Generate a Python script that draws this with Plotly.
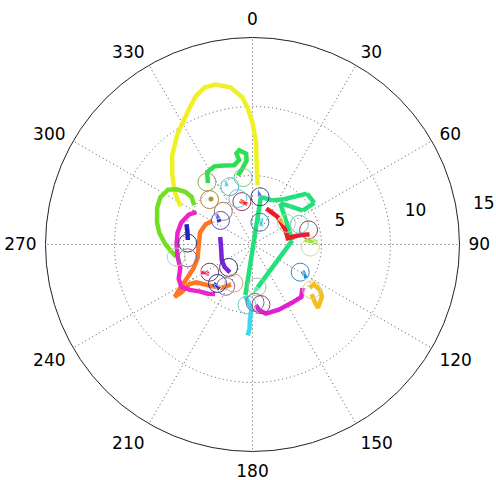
import plotly.graph_objects as go

# ---- angular / radial tick labels ----
ANG_TICKS = list(range(0, 360, 30))
ANG_TEXT = [str(a) for a in ANG_TICKS]
RAD_TICKS = [5, 10, 15]
RAD_TEXT = ["5", "10", "15"]
RAD_LABEL_R = [6.55, 12.05]
RAD_LABEL_T = [75.6, 78.8]

# ---- tracks (r, theta in degrees, clockwise from north) ----
yellow_r = [4.3, 5.8, 7.4, 8.8, 9.9, 10.7, 11.5, 11.9, 11.9, 11.5, 10.7, 9.7, 8.7, 7.7, 6.8, 5.9]
yellow_t = [5, 3, 2, 0, 358, 356, 352, 347, 343, 339, 334, 326, 318, 311, 304, 298]

lime_r = [5.1, 5.6, 6.2, 6.8, 7.3, 7.5, 7.4, 7.1, 6.8, 6.3, 5.9, 5.6]
lime_t = [304, 308, 308, 306, 303, 297, 291, 283, 277, 270, 265, 261]

green_r = [5.5, 6.2, 6.3, 6.1, 5.9, 6.2, 6.7, 6.9, 6.6, 6.1, 5.5, 5.1]
green_t = [324, 328, 334, 340, 347, 351, 350, 352, 356, 356, 352, 348]

spring_r = [3.7, 3.5, 3.5, 4.0, 4.7, 5.4, 5.4, 4.4, 3.9, 3.6, 2.9, 3.7]
spring_t = [188, 10, 24, 35, 42, 47, 56, 56, 45, 34, 84, 181]

red_r = [2.8, 2.7, 2.7, 2.6, 2.6, 2.6, 3.2, 3.7, 4.2]
red_t = [21, 32, 42, 54, 65, 80, 79, 79, 80]

chart_r = [3.8, 4.3, 4.7]
chart_t = [85, 87, 88]

magenta_r = [4.7, 5.1, 5.4, 5.5, 5.5, 5.5, 5.5, 5.9, 6.0, 5.6, 5.1, 4.8, 4.5]
magenta_t = [300, 295, 287, 279, 270, 261, 252, 245, 239, 234, 228, 222, 217]

magenta2_r = [4.8, 5.2, 5.1, 5.1, 5.1, 4.8, 4.4]
magenta2_t = [131, 137, 146, 158, 169, 174, 177]

orange_r = [3.4, 3.7, 3.9, 3.9, 4.1, 4.6, 5.3, 6.1, 6.8, 6.2, 5.4, 4.9, 4.4, 3.9, 3.3]
orange_t = [300, 293, 283, 269, 256, 248, 243, 239, 236, 236, 238, 236, 228, 216, 208]

purple_r = [2.4, 2.3, 2.5, 2.6, 2.6]
purple_t = [283, 260, 243, 231, 219]

blue_r = [4.7, 4.8, 5.0]
blue_t = [274, 281, 287]

cyan_r = [3.8, 4.2, 4.7, 5.5, 6.1, 6.6]
cyan_t = [188, 184, 181, 182, 182, 183]

gold_r = [5.2, 5.3, 5.9, 6.3, 6.6, 6.2, 5.6]
gold_t = [127, 123, 124, 127, 134, 133, 130]

# ---- short heading arrows: tail (r0, t0) -> head (r1, t1) ----
arrow_r0 = [3.5, 4.6, 3.0, 2.9, 1.6, 4.2, 4.0, 4.6, 2.8]
arrow_t0 = [9, 336, 351, 304, 23, 241, 220, 122, 46]
arrow_r1 = [4.1, 5.2, 3.3, 3.6, 2.0, 3.8, 4.0, 4.1, 2.7]
arrow_t1 = [5, 338, 344, 313, 18, 236, 225, 118, 59]
arrow_colors = ["#1440dd", "#22c8dd", "#ee1c24", "#2233dd", "#22c8dd",
                "#ee2255", "#1122cc", "#2288dd", "#e8d830"]

# ---- start-position rings ----
ring_r = [5.6, 4.5, 4.5, 4.9, 3.2, 3.5, 3.5, 3.2, 2.9, 1.7, 2.9, 3.7, 4.2, 4.2,
          4.0, 5.4, 4.7, 4.8, 5.6, 3.7, 2.4, 3.8, 3.6, 3.1, 3.1, 4.4, 4.2, 4.4]
ring_t = [323.9, 316.3, 338.6, 352.0, 346.1, 342.3, 9.0, 318.6, 307.0, 18.4, 58.1,
          66.7, 75.4, 92.5, 120.1, 127.4, 271.3, 258.4, 260.7, 237.1, 226.2, 221.9,
          212.6, 205.7, 174.0, 185.2, 177.5, 172.0]
ring_colors = ["#99aa55", "#aa8844", "#44bbcc", "#77cc88", "#993366", "#55ccdd",
               "#334488", "#997766", "#5555aa", "#4477aa", "#aaddaa", "#66cccc",
               "#aa3355", "#ccdd99", "#3388cc", "#eecc88", "#333377", "#886699",
               "#aadd99", "#883355", "#333377", "#333388", "#996699", "#ccaa77",
               "#99cc99", "#66cccc", "#886699", "#994466"]

dot_r = [4.46]
dot_t = [317.6]

FONT = "DejaVu Sans"
fig = go.Figure()

tracks = [
    (yellow_r, yellow_t, "#f0f028", False),
    (lime_r, lime_t, "#70e020", False),
    (green_r, green_t, "#2ee050", False),
    (orange_r, orange_t, "#ff7722", False),
    (magenta_r, magenta_t, "#ee22cc", False),
    (magenta2_r, magenta2_t, "#e020d0", False),
    (cyan_r, cyan_t, "#33ddee", False),
    (spring_r, spring_t, "#22e07a", True),
    (red_r, red_t, "#ee1c24", False),
    (purple_r, purple_t, "#7a22dd", False),
    (blue_r, blue_t, "#2222cc", False),
    (gold_r, gold_t, "#f0c020", False),
    (chart_r, chart_t, "#99e622", True),
]
for r, t, c, head in tracks:
    n = len(r)
    fig.add_trace(go.Scatterpolar(
        r=r, theta=t, mode="lines+markers" if head else "lines",
        line=dict(color=c, width=4.5),
        marker=dict(symbol="arrow", angleref="previous", color=c,
                    size=[0] * (n - 1) + [10]),
        hoverinfo="skip"))

fig.add_trace(go.Scatterpolar(
    r=ring_r, theta=ring_t, mode="markers",
    marker=dict(symbol="circle-open", size=18, color=ring_colors, line=dict(width=1)),
    hoverinfo="skip"))

for i, c in enumerate(arrow_colors):
    fig.add_trace(go.Scatterpolar(
        r=[arrow_r0[i], arrow_r1[i]], theta=[arrow_t0[i], arrow_t1[i]],
        mode="lines+markers", line=dict(color=c, width=4),
        marker=dict(symbol="arrow", angleref="previous", color=c, size=[0, 9]),
        hoverinfo="skip"))

fig.add_trace(go.Scatterpolar(r=dot_r, theta=dot_t, mode="markers",
                              marker=dict(color="#aa9933", size=5), hoverinfo="skip"))

# radial tick labels for the inner rings, placed along the 80-degree bearing
fig.add_trace(go.Scatterpolar(
    r=RAD_LABEL_R, theta=RAD_LABEL_T, mode="text", text=RAD_TEXT[:2],
    textfont=dict(family=FONT, size=17, color="black"),
    cliponaxis=False, hoverinfo="skip"))

# the outermost radial label sits just outside the rim
fig.add_annotation(text=RAD_TEXT[2], xref="paper", yref="paper",
                   x=0.9758, y=0.5765, xanchor="center", yanchor="middle",
                   showarrow=False, font=dict(family=FONT, size=17, color="black"))

grid = "#555555"
fig.update_layout(
    width=496, height=480,
    margin=dict(l=0, r=0, t=0, b=0),
    paper_bgcolor="white", showlegend=False,
    font=dict(family=FONT, size=17, color="black"),
    polar=dict(
        bgcolor="white",
        domain=dict(x=[0.0917, 0.9264], y=[0.0594, 0.9219]),
        angularaxis=dict(
            rotation=90, direction="clockwise",
            tickmode="array", tickvals=ANG_TICKS, ticktext=ANG_TEXT,
            ticks="outside", ticklen=5, tickcolor="rgba(0,0,0,0)",
            showline=True, linecolor="#222", linewidth=1,
            showgrid=True, gridcolor=grid, gridwidth=1, griddash="1px,3px",
            tickfont=dict(family=FONT, size=17, color="black"),
        ),
        radialaxis=dict(
            range=[0, 15], tickmode="array", tickvals=RAD_TICKS,
            showticklabels=False, ticks="", showline=False,
            showgrid=True, gridcolor=grid, gridwidth=1, griddash="1px,3px",
        ),
    ),
)

fig.write_html("out.html")
